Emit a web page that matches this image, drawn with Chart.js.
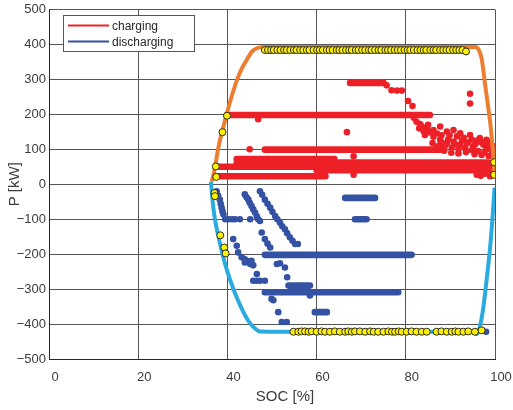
<!DOCTYPE html>
<html>
<head>
<meta charset="utf-8">
<script src="https://cdn.jsdelivr.net/npm/chart.js@4.4.1/dist/chart.umd.min.js"></script>
<style>
  html, body { margin: 0; padding: 0; background: #fff; }
  #wrap { width: 513px; height: 410px; }
</style>
</head>
<body>
<div id="wrap"><canvas id="socChart"></canvas></div>
<script>
// power limit over SOC, charging side [SOC %, kW]
const chargeLimit = [
  [36.5, 8], [37.2, 46], [37.9, 100], [38.8, 150], [39.8, 198], [40.6, 236],
  [42.2, 300], [43.2, 330], [44.3, 355], [45.4, 378], [46.6, 389], [47.8, 393],
  [60, 393], [80, 393], [95.5, 393], [96.3, 386], [97.0, 360], [97.9, 274],
  [98.9, 179], [99.3, 130], [99.7, 65], [99.9, 20]
];

// power limit over SOC, discharging side
const dischargeLimit = [
  [36.3, 8], [36.7, -50], [37.2, -100], [38.0, -150], [38.9, -200], [40.0, -250],
  [41.5, -305], [43.0, -350], [44.6, -389], [45.8, -408], [47.3, -421],
  [60, -422], [80, -422], [95.3, -422], [95.9, -429], [96.6, -408], [97.4, -351],
  [98.1, -276], [98.9, -181], [99.5, -86], [99.9, -10]
];

// operating points sitting on the limit
const limitHits = [
  [37.4, 51], [37.5, 21], [38.9, 149], [39.9, 196],
  [37.1, -25], [37.2, -34], [38.4, -146], [39.3, -181], [39.6, -198],
  [99.8, 63], [99.8, 27],
  [48.4, 384], [49.1, 384], [49.8, 384], [50.4, 384], [51.2, 384], [51.9, 384], [52.7, 384],
  [53.3, 384], [54.1, 384], [54.9, 384], [55.5, 384], [56.3, 384], [57.0, 384], [57.8, 384],
  [58.4, 384], [59.3, 384], [60.1, 384], [60.7, 384], [61.4, 384], [62.3, 384], [62.9, 384],
  [63.6, 384], [64.5, 384], [65.1, 384], [65.8, 384], [66.6, 384], [67.3, 384], [67.9, 384],
  [68.8, 384], [69.4, 384], [70.2, 384], [70.9, 384], [71.7, 384], [72.3, 384], [73.1, 384],
  [73.9, 384], [74.5, 384], [75.4, 384], [76.0, 384], [76.7, 384], [77.5, 384], [78.2, 384],
  [78.9, 384], [79.7, 384], [80.4, 384], [81.0, 384], [81.8, 384], [82.6, 384], [83.3, 384],
  [84.0, 384], [84.6, 384], [85.5, 384], [86.2, 384], [86.8, 384], [87.7, 384], [88.4, 384],
  [89.1, 384], [89.8, 384], [90.6, 384], [91.3, 384], [92.0, 384], [92.7, 384], [93.5, 380],
  [54.8, -422], [55.9, -422], [56.6, -421], [57.4, -421], [58.2, -422], [58.9, -421], [60.0, -422],
  [61.1, -421], [61.9, -422], [63.0, -422], [64.1, -421], [65.2, -422], [66.4, -422], [67.1, -421],
  [67.9, -422], [68.6, -421], [69.7, -421], [70.9, -422], [72.0, -421], [72.8, -422], [73.8, -422],
  [75.0, -422], [76.1, -421], [76.9, -422], [77.6, -422], [78.4, -421], [79.1, -422], [80.2, -422],
  [81.3, -421], [82.4, -422], [83.6, -422], [84.7, -422], [86.9, -422], [88.0, -421], [89.2, -422],
  [90.3, -422], [91.1, -421], [91.8, -422], [92.9, -422], [94.0, -421], [95.5, -422], [97.0, -418]
];

// dense runs of charging samples at constant power [SOC from, SOC to, kW]
const chargeRuns = [
  [39.9, 85.4, 198], [67.5, 75.0, 290], [48.4, 87.7, 99],
  [42.1, 64.0, 72], [42.1, 98.5, 62], [37.6, 99.8, 50],
  [60.0, 99.3, 40], [37.6, 62.0, 23]
];

// single charging samples
const chargeSamples = [
  [46.9, 186], [66.8, 149], [45.0, 100], [68.3, 80], [68.3, 27],
  [75.7, 283], [76.8, 269], [78.0, 268], [79.1, 268], [80.5, 238], [81.5, 224],
  [94.4, 259], [94.4, 231],
  [81.8, 190], [83.2, 172], [84.8, 160], [82.4, 179], [83.6, 165], [85.0, 170],
  [86.2, 155], [87.7, 165], [89.2, 151], [90.7, 155], [92.2, 146], [94.4, 141],
  [96.6, 132], [98.1, 127],
  [83.0, 160], [84.0, 152], [85.5, 148], [87.0, 145], [88.0, 140], [89.8, 140],
  [91.5, 137], [93.0, 133], [94.8, 128], [96.0, 125], [97.3, 120],
  [84.3, 141], [86.2, 136], [87.7, 127], [89.2, 117], [87.7, 113], [90.7, 122],
  [92.2, 113], [93.7, 117], [95.1, 108], [97.4, 113], [98.1, 103], [99.3, 94],
  [86.0, 118], [87.0, 108], [88.0, 120], [88.8, 110], [89.5, 128], [90.3, 105],
  [91.0, 115], [91.8, 100], [92.6, 125], [93.3, 104], [94.0, 120], [94.8, 98],
  [95.6, 115], [96.2, 95], [96.9, 120], [97.7, 92], [98.4, 110], [99.0, 100],
  [98.7, 118], [99.4, 110],
  [88.6, 96], [90.2, 90], [91.8, 88], [93.5, 92], [95.4, 86], [97.0, 84], [98.6, 80],
  [95.9, 27], [96.8, 24], [97.8, 30], [98.9, 23], [99.3, 35], [97.5, 37]
];

// dense runs of discharging samples
const dischargeRuns = [
  [48.4, 81.3, -202], [66.4, 73.1, -39], [68.6, 71.2, -100],
  [53.7, 58.5, -290], [48.4, 78.3, -309], [59.6, 62.3, -366]
];

// single discharging samples
const dischargeSamples = [
  [37.6, -20], [37.9, -32], [38.3, -44], [38.5, -56], [38.7, -67], [38.9, -77], [39.1, -86],
  [39.5, -100], [40.2, -100], [41.0, -100], [41.7, -100], [42.8, -100], [45.1, -100], [46.9, -100],
  [43.9, -29], [44.3, -37], [44.7, -44], [45.0, -53], [45.4, -62], [45.8, -72], [46.2, -81],
  [46.6, -92], [47.3, -105],
  [47.3, -20], [47.8, -30], [48.4, -44], [49.0, -56], [49.6, -67], [50.1, -79], [50.7, -91],
  [51.2, -100], [51.8, -110], [52.3, -120], [52.9, -129], [53.4, -140], [54.0, -152],
  [54.6, -162], [55.2, -171], [55.8, -171],
  [47.7, -138], [48.4, -157], [49.0, -170], [49.6, -181],
  [41.3, -157], [42.1, -176], [42.4, -195], [43.2, -209], [43.9, -215], [44.3, -219],
  [45.4, -219], [45.8, -232], [43.9, -224], [45.1, -228],
  [51.1, -228], [51.8, -226], [52.9, -238], [53.4, -266],
  [46.6, -257], [45.8, -276], [46.6, -276], [47.3, -276], [48.4, -276],
  [49.9, -328], [50.3, -332], [51.4, -366], [52.2, -394], [53.3, -394], [58.5, -318],
  [98.0, -422]
];

const RED = 'rgb(237,32,39)';
const BLUE = 'rgb(52,82,163)';
const ORANGE = 'rgb(237,125,49)';
const SKY = 'rgb(41,171,226)';

const toPoints = arr => arr.map(p => ({ x: p[0], y: p[1] }));
// each run becomes its own segment; the null point breaks the line
const toRuns = arr => arr.flatMap(r => [
  { x: r[0], y: r[2] }, { x: r[1], y: r[2] }, { x: r[1], y: null }
]);

const font = { family: '"Liberation Sans", Arial, sans-serif' };

// legend box and the x axis title
const overlay = {
  id: 'overlay',
  afterDraw(chart) {
    const ctx = chart.ctx;
    ctx.save();
    ctx.fillStyle = '#fff';
    ctx.strokeStyle = '#555';
    ctx.lineWidth = 1;
    ctx.fillRect(63.5, 15.5, 131, 36);
    ctx.strokeRect(63.5, 15.5, 131, 36);

    ctx.lineWidth = 2;
    ctx.strokeStyle = RED;
    ctx.beginPath(); ctx.moveTo(68, 25.5); ctx.lineTo(109, 25.5); ctx.stroke();
    ctx.strokeStyle = BLUE;
    ctx.beginPath(); ctx.moveTo(68, 41.5); ctx.lineTo(109, 41.5); ctx.stroke();

    ctx.fillStyle = '#262626';
    ctx.font = '12px ' + font.family;
    ctx.textBaseline = 'middle';
    ctx.fillText('charging', 112, 27);
    ctx.fillText('discharging', 112, 43);

    ctx.fillStyle = '#3c3c3c';
    ctx.font = '15px ' + font.family;
    ctx.textAlign = 'center';
    ctx.fillText('SOC [%]', 285, 397);
    ctx.restore();
  }
};

new Chart(document.getElementById('socChart'), {
  type: 'scatter',
  data: {
    datasets: [
      {
        data: toPoints(limitHits),
        pointRadius: 3.5,
        pointBackgroundColor: '#fff200',
        pointBorderColor: '#2b2b2b',
        pointBorderWidth: 1
      },
      {
        data: toPoints(chargeLimit),
        showLine: true,
        borderColor: ORANGE,
        borderWidth: 4,
        pointRadius: 0,
        cubicInterpolationMode: 'monotone'
      },
      {
        data: toPoints(dischargeLimit),
        showLine: true,
        borderColor: SKY,
        borderWidth: 4,
        pointRadius: 0,
        cubicInterpolationMode: 'monotone'
      },
      {
        data: toRuns(chargeRuns),
        showLine: true,
        borderColor: RED,
        borderWidth: 6.6,
        borderCapStyle: 'round',
        pointRadius: 0
      },
      {
        data: toPoints(chargeSamples),
        pointRadius: 3.3,
        pointBackgroundColor: RED,
        pointBorderWidth: 0
      },
      {
        data: toRuns(dischargeRuns),
        showLine: true,
        borderColor: BLUE,
        borderWidth: 6.6,
        borderCapStyle: 'round',
        pointRadius: 0
      },
      {
        data: toPoints(dischargeSamples),
        pointRadius: 3.3,
        pointBackgroundColor: BLUE,
        pointBorderWidth: 0
      }
    ]
  },
  options: {
    responsive: true,
    maintainAspectRatio: false,
    animation: false,
    layout: { padding: { top: 7, right: 18, bottom: 0, left: 0 } },
    scales: {
      x: {
        type: 'linear',
        min: 0,
        max: 100,
        // keep the plot box fixed; the end labels may overhang it
        afterFit: s => { s.height = 51; s.paddingLeft = 0; s.paddingRight = 0; },
        ticks: {
          stepSize: 20,
          color: '#3c3c3c',
          font: { family: font.family, size: 13, lineHeight: 1 },
          padding: 12,
          labelOffset: 6,
          maxRotation: 0
        },
        grid: { color: '#555', drawTicks: false },
        border: { color: '#262626', width: 1 }
      },
      y: {
        min: -500,
        max: 500,
        afterFit: s => { s.width = 49; },
        ticks: {
          stepSize: 100,
          color: '#3c3c3c',
          font: { family: font.family, size: 13, lineHeight: 1 },
          padding: 3,
          callback: v => v < 0 ? '\u2212' + Math.abs(v) : String(v)
        },
        title: {
          display: true,
          text: 'P [kW]',
          color: '#3c3c3c',
          font: { family: font.family, size: 15 },
          padding: { top: 6, bottom: 0 }
        },
        grid: { color: '#555', drawTicks: false },
        border: { color: '#262626', width: 1 }
      }
    },
    plugins: {
      legend: { display: false },
      tooltip: { enabled: false }
    }
  },
  plugins: [overlay]
});
</script>
</body>
</html>
